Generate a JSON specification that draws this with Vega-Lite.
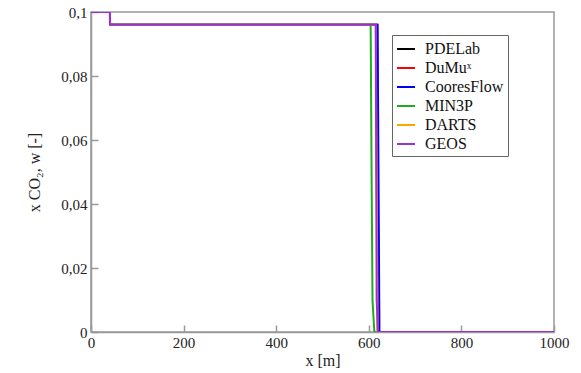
{
  "$schema": "https://vega.github.io/schema/vega-lite/v6.json",
  "width": 463,
  "height": 320,
  "autosize": {"type": "none"},
  "padding": {"left": 91, "top": 12, "right": 27, "bottom": 41},
  "background": "white",
  "config": {
    "view": {"stroke": "#999999", "strokeWidth": 1.5},
    "font": "Liberation Serif",
    "axis": {
      "grid": false,
      "domainColor": "#999999",
      "domainWidth": 1.5,
      "tickColor": "#999999",
      "tickWidth": 1.5,
      "tickSize": -7,
      "labelFont": "Liberation Serif",
      "labelFontSize": 15,
      "labelColor": "#222222",
      "titleFont": "Liberation Serif",
      "titleFontSize": 16,
      "titleFontWeight": "normal",
      "titleColor": "#222222"
    }
  },
  "data": {
    "values": [
      {"series": "PDELab", "i": 1, "x": 0, "y": 0.1},
      {"series": "PDELab", "i": 2, "x": 41, "y": 0.1},
      {"series": "PDELab", "i": 3, "x": 41, "y": 0.096},
      {"series": "PDELab", "i": 4, "x": 618, "y": 0.096},
      {"series": "PDELab", "i": 5, "x": 621, "y": 0},
      {"series": "PDELab", "i": 6, "x": 1000, "y": 0},
      {"series": "DuMuˣ", "i": 1, "x": 0, "y": 0.1},
      {"series": "DuMuˣ", "i": 2, "x": 41, "y": 0.1},
      {"series": "DuMuˣ", "i": 3, "x": 41, "y": 0.096},
      {"series": "DuMuˣ", "i": 4, "x": 616, "y": 0.096},
      {"series": "DuMuˣ", "i": 5, "x": 619, "y": 0},
      {"series": "DuMuˣ", "i": 6, "x": 1000, "y": 0},
      {"series": "CooresFlow", "i": 1, "x": 0, "y": 0.1},
      {"series": "CooresFlow", "i": 2, "x": 41, "y": 0.1},
      {"series": "CooresFlow", "i": 3, "x": 41, "y": 0.096},
      {"series": "CooresFlow", "i": 4, "x": 619, "y": 0.096},
      {"series": "CooresFlow", "i": 5, "x": 623, "y": 0},
      {"series": "CooresFlow", "i": 6, "x": 1000, "y": 0},
      {"series": "MIN3P", "i": 1, "x": 0, "y": 0.1},
      {"series": "MIN3P", "i": 2, "x": 41, "y": 0.1},
      {"series": "MIN3P", "i": 3, "x": 41, "y": 0.096},
      {"series": "MIN3P", "i": 4, "x": 604, "y": 0.096},
      {"series": "MIN3P", "i": 5, "x": 606, "y": 0.05},
      {"series": "MIN3P", "i": 6, "x": 608, "y": 0.01},
      {"series": "MIN3P", "i": 7, "x": 612, "y": 0},
      {"series": "MIN3P", "i": 8, "x": 1000, "y": 0},
      {"series": "DARTS", "i": 1, "x": 0, "y": 0.1},
      {"series": "DARTS", "i": 2, "x": 41, "y": 0.1},
      {"series": "DARTS", "i": 3, "x": 41, "y": 0.096},
      {"series": "DARTS", "i": 4, "x": 615, "y": 0.096},
      {"series": "DARTS", "i": 5, "x": 619, "y": 0},
      {"series": "DARTS", "i": 6, "x": 1000, "y": 0},
      {"series": "GEOS", "i": 1, "x": 0, "y": 0.1},
      {"series": "GEOS", "i": 2, "x": 41, "y": 0.1},
      {"series": "GEOS", "i": 3, "x": 41, "y": 0.096},
      {"series": "GEOS", "i": 4, "x": 615, "y": 0.096},
      {"series": "GEOS", "i": 5, "x": 617, "y": 0.01},
      {"series": "GEOS", "i": 6, "x": 620, "y": 0},
      {"series": "GEOS", "i": 7, "x": 1000, "y": 0}
    ]
  },
  "mark": {"type": "line", "strokeWidth": 2, "clip": true},
  "encoding": {
    "x": {
      "field": "x",
      "type": "quantitative",
      "scale": {"domain": [0, 1000], "nice": false, "zero": false},
      "axis": {"values": [0, 200, 400, 600, 800, 1000], "format": "d", "title": "x [m]", "labelPadding": 10, "titlePadding": 2, "labelFlush": false}
    },
    "y": {
      "field": "y",
      "type": "quantitative",
      "scale": {"domain": [0, 0.1], "nice": false},
      "axis": {
        "values": [0, 0.02, 0.04, 0.06, 0.08, 0.1],
        "labelExpr": "replace(format(datum.value, '~g'), '.', ',')",
        "title": "x CO₂, w [-]",
        "labelPadding": 11,
        "titlePadding": 18,
        "labelFlush": false
      }
    },
    "order": {"field": "i", "type": "quantitative"},
    "color": {
      "field": "series",
      "type": "nominal",
      "sort": null,
      "scale": {
        "domain": ["PDELab", "DuMuˣ", "CooresFlow", "MIN3P", "DARTS", "GEOS"],
        "range": ["#000000", "#ff0000", "#0000ff", "#22aa22", "#ffa500", "#9b30d8"]
      },
      "legend": {
        "title": null,
        "orient": "none",
        "legendX": 301,
        "legendY": 23,
        "fillColor": "white",
        "strokeColor": "#666666",
        "padding": 4,
        "symbolType": "stroke",
        "symbolStrokeWidth": 2,
        "symbolSize": 324,
        "labelFont": "Liberation Serif",
        "labelFontSize": 16,
        "labelColor": "#111111",
        "rowPadding": 1,
        "labelOffset": 9
      }
    }
  }
}
